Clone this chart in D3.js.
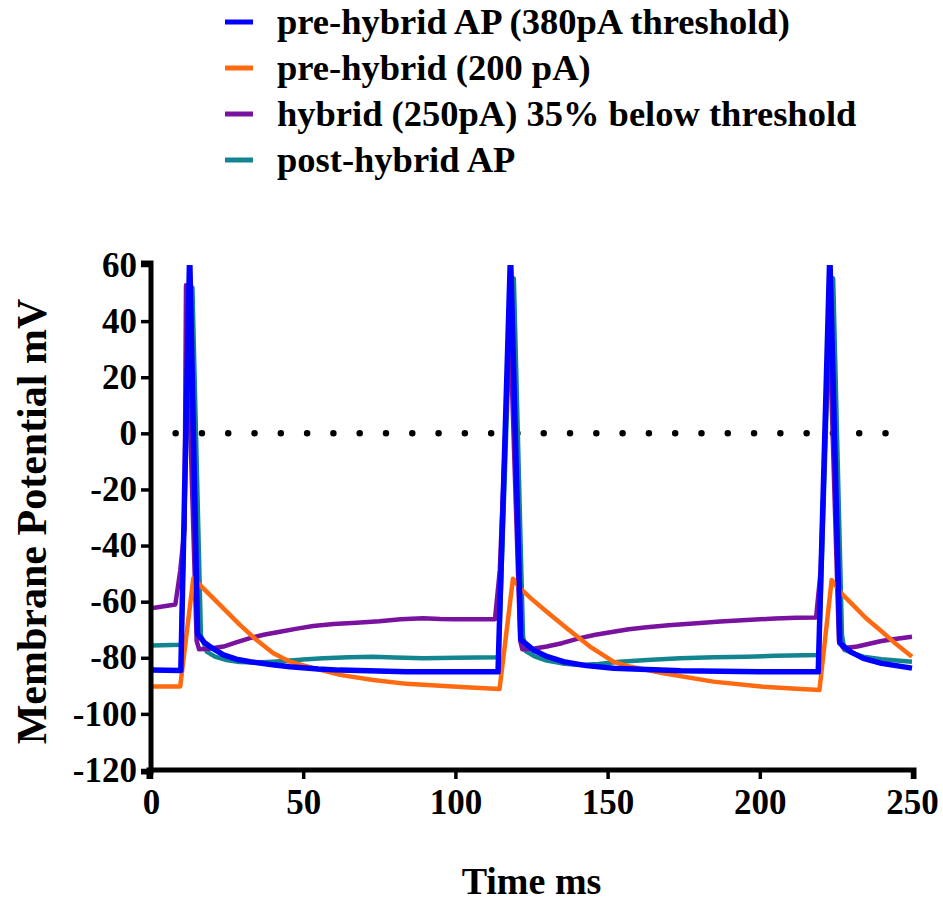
<!DOCTYPE html>
<html>
<head>
<meta charset="utf-8">
<script src="https://cdn.jsdelivr.net/npm/d3@7"></script>
<style>
  html, body { margin: 0; padding: 0; background: #fff; }
  svg { display: block; }
  text { font-family: "Liberation Serif", "Times New Roman", serif; font-weight: bold; fill: #000; }
</style>
</head>
<body>
<svg id="chart" width="943" height="902"></svg>
<script>
// Membrane potential traces, [time ms, potential mV]
const preHybridAP = [
  [0,-84.4],[9.8,-84.5],[12.7,64],[15.3,-71.5],[17.5,-74.5],[20,-76.5],[23.8,-79],[28,-80.5],
  [32.5,-81.4],[40,-82.5],[45.7,-83.2],[55,-84],[62,-84.4],[84,-85],[100,-85],[114,-85],
  [118.1,64],[121.5,-73.5],[125.6,-77.2],[130,-79.5],[135.5,-81.4],[143,-82.8],[152,-83.7],
  [174,-84.6],[200,-85],[219.2,-85],[223,64],[226.3,-74.8],[230,-78],[234,-80.2],[240,-82],[250,-83.7]
];
const preHybrid200 = [
  [0,-90.2],[9.6,-90.2],[13.9,-51.7],[16.7,-54.7],[20,-58.3],[23.8,-62.4],[29.2,-68.3],[34.7,-73.7],
  [40.2,-78.4],[45.7,-81.4],[53.3,-83.7],[62.1,-86.1],[73,-87.9],[84,-89.3],[94.9,-90],[105,-90.6],
  [114.5,-91.1],[118.9,-51.8],[121.2,-55.2],[125,-59],[130,-63.6],[136.6,-69.5],[144.2,-76],
  [151.9,-81.4],[156.3,-82.9],[168.3,-85.5],[184.7,-88.5],[201.1,-90.3],[212,-91],[219.6,-91.5],
  [223.6,-52.3],[226.8,-57],[230,-60.5],[235,-66],[239.5,-70.1],[245,-75.3],[250,-79.6]
];
const hybrid250 = [
  [0,-62.4],[8,-61],[9.6,-49],[11,-34],[11.5,52.8],[15,-74],[15.8,-77],[19,-76.8],[23.8,-76],
  [28,-74.5],[32.5,-73],[37,-71.8],[42.4,-70.7],[48,-69.6],[53.3,-68.7],[60,-68],[67.5,-67.5],
  [75,-67],[82,-66.3],[89.4,-65.9],[95,-66.2],[100,-66.3],[108,-66.3],[113,-66.3],[114.6,-48.6],
  [117.9,40],[121.3,-74],[122,-77],[126,-76.7],[130,-76],[135,-74.8],[140.9,-73],[146,-71.8],
  [151.9,-70.7],[157,-69.8],[162.9,-69.1],[170,-68.4],[179.3,-67.7],[187,-67.1],[195.7,-66.5],
  [205,-66],[212,-65.7],[218.5,-65.6],[220,-49],[222.8,40],[226,-74],[227.4,-76.6],[232,-76],
  [236,-75],[240,-74],[245,-73.2],[250,-72.5]
];
const postHybridAP = [
  [0,-75.6],[9.9,-75.4],[12.8,50],[13.6,52],[16.4,-72],[18.3,-77.8],[21,-79.6],[24.8,-80.8],
  [29,-81.5],[34.7,-81.7],[40,-81.4],[45.7,-81],[50,-80.6],[56.6,-80.2],[65,-79.8],[73,-79.6],
  [80,-79.9],[89.4,-80.2],[100,-80],[114.2,-79.8],[118.3,52],[119.2,55.2],[122.2,-72],[123,-77.5],
  [126,-79.5],[130,-81],[135,-82],[140.9,-82.6],[147,-82.2],[154,-81.4],[163,-80.8],[173.8,-80.2],
  [185,-79.8],[195.7,-79.6],[205,-79.3],[219.4,-79],[223.2,52],[224.1,55.2],[227,-72],
  [227.8,-77.2],[231,-78.5],[234,-79.6],[240,-80.5],[245,-81],[250,-81.4]
];

// Dotted 0 mV reference
const zeroLine = [[8.1,0],[241.3,0]];
const zeroDotCount = 28;

const seriesNames = [
  "pre-hybrid AP (380pA threshold)",
  "pre-hybrid (200 pA)",
  "hybrid (250pA) 35% below threshold",
  "post-hybrid AP"
];
const seriesColors = ["#0000ff", "#ff6a10", "#7a12a0", "#138591"];
const seriesData = [preHybridAP, preHybrid200, hybrid250, postHybridAP];

const xDomain = [0, 250];
const yDomain = [-120, 60];
const xTicks = [0, 50, 100, 150, 200, 250];
const yTicks = [-120, -100, -80, -60, -40, -20, 0, 20, 40, 60];

const FONT = "'Liberation Serif', 'Times New Roman', serif";
const svg = d3.select("#chart");
const plotLeft = 151, plotRight = 912, plotTop = 265, plotBottom = 770;

const x = d3.scaleLinear().domain(xDomain).range([plotLeft, plotRight]);
const y = d3.scaleLinear().domain(yDomain).range([plotBottom, plotTop]);
const fmt = d => String(d); // plain hyphen-minus

svg.append("defs").append("clipPath").attr("id", "plotClip")
  .append("rect").attr("x", plotLeft).attr("y", plotTop)
  .attr("width", plotRight - plotLeft + 4).attr("height", plotBottom - plotTop);

// zero reference dots
const zx0 = x(zeroLine[0][0]), zx1 = x(zeroLine[1][0]);
const gap = (zx1 - zx0) / (zeroDotCount - 1);
svg.append("line")
  .attr("x1", zx0).attr("x2", zx1 + 1)
  .attr("y1", y(zeroLine[0][1])).attr("y2", y(zeroLine[1][1]))
  .attr("stroke", "#000").attr("stroke-width", 6.5)
  .attr("stroke-linecap", "round")
  .attr("stroke-dasharray", `0 ${gap}`);

// traces: last legend entry drawn first
const line = d3.line().x(d => x(d[0])).y(d => y(d[1]));
const traces = svg.append("g").attr("clip-path", "url(#plotClip)");
for (let i = seriesData.length - 1; i >= 0; i--) {
  traces.append("path")
    .datum(seriesData[i])
    .attr("d", line)
    .attr("fill", "none")
    .attr("stroke", seriesColors[i])
    .attr("stroke-width", i === 0 ? 5.5 : 4.5)
    .attr("stroke-linejoin", "round");
}

// axes
const yAxis = svg.append("g").attr("transform", `translate(${plotLeft},0)`)
  .call(d3.axisLeft(y).tickValues(yTicks).tickSize(10).tickPadding(4).tickFormat(fmt));
const xAxis = svg.append("g").attr("transform", `translate(0,${plotBottom})`)
  .call(d3.axisBottom(x).tickValues(xTicks).tickSize(9).tickPadding(10).tickFormat(fmt));

[yAxis, xAxis].forEach(g => {
  g.attr("font-family", null).attr("font-size", null);
  g.select(".domain").attr("stroke", "#000").attr("stroke-width", 5);
  g.selectAll(".tick line").attr("stroke", "#000").attr("stroke-width", 3.5);
  g.selectAll(".tick text").attr("fill", "#000").style("font-size", "35px")
    .style("font-family", FONT).style("font-weight", "bold");
});
yAxis.select(".domain").attr("d", `M-10,${plotTop - 2}H0V${plotBottom + 2}H-10`);
xAxis.select(".domain").attr("d", `M${plotLeft - 2},9V0H${plotRight + 2}V9`);
xAxis.selectAll(".tick text").attr("dy", "0.71em");

// axis titles
svg.append("text")
  .attr("transform", `translate(46,${(plotTop + plotBottom) / 2 + 4}) rotate(-90)`)
  .attr("text-anchor", "middle")
  .style("font-family", FONT).style("font-size", "42px")
  .text("Membrane Potential mV");
svg.append("text")
  .attr("x", (plotLeft + plotRight) / 2).attr("y", 894)
  .attr("text-anchor", "middle")
  .style("font-family", FONT).style("font-size", "38px")
  .text("Time ms");

// legend
const legend = svg.append("g");
seriesNames.forEach((name, i) => {
  const cy = 22 + i * 46;
  legend.append("line")
    .attr("x1", 225).attr("x2", 253).attr("y1", cy).attr("y2", cy)
    .attr("stroke", seriesColors[i]).attr("stroke-width", 5);
  legend.append("text")
    .attr("x", 277).attr("y", cy).attr("dy", "0.33em")
    .style("font-family", FONT).style("font-size", "36.5px")
    .text(name);
});
</script>
</body>
</html>
